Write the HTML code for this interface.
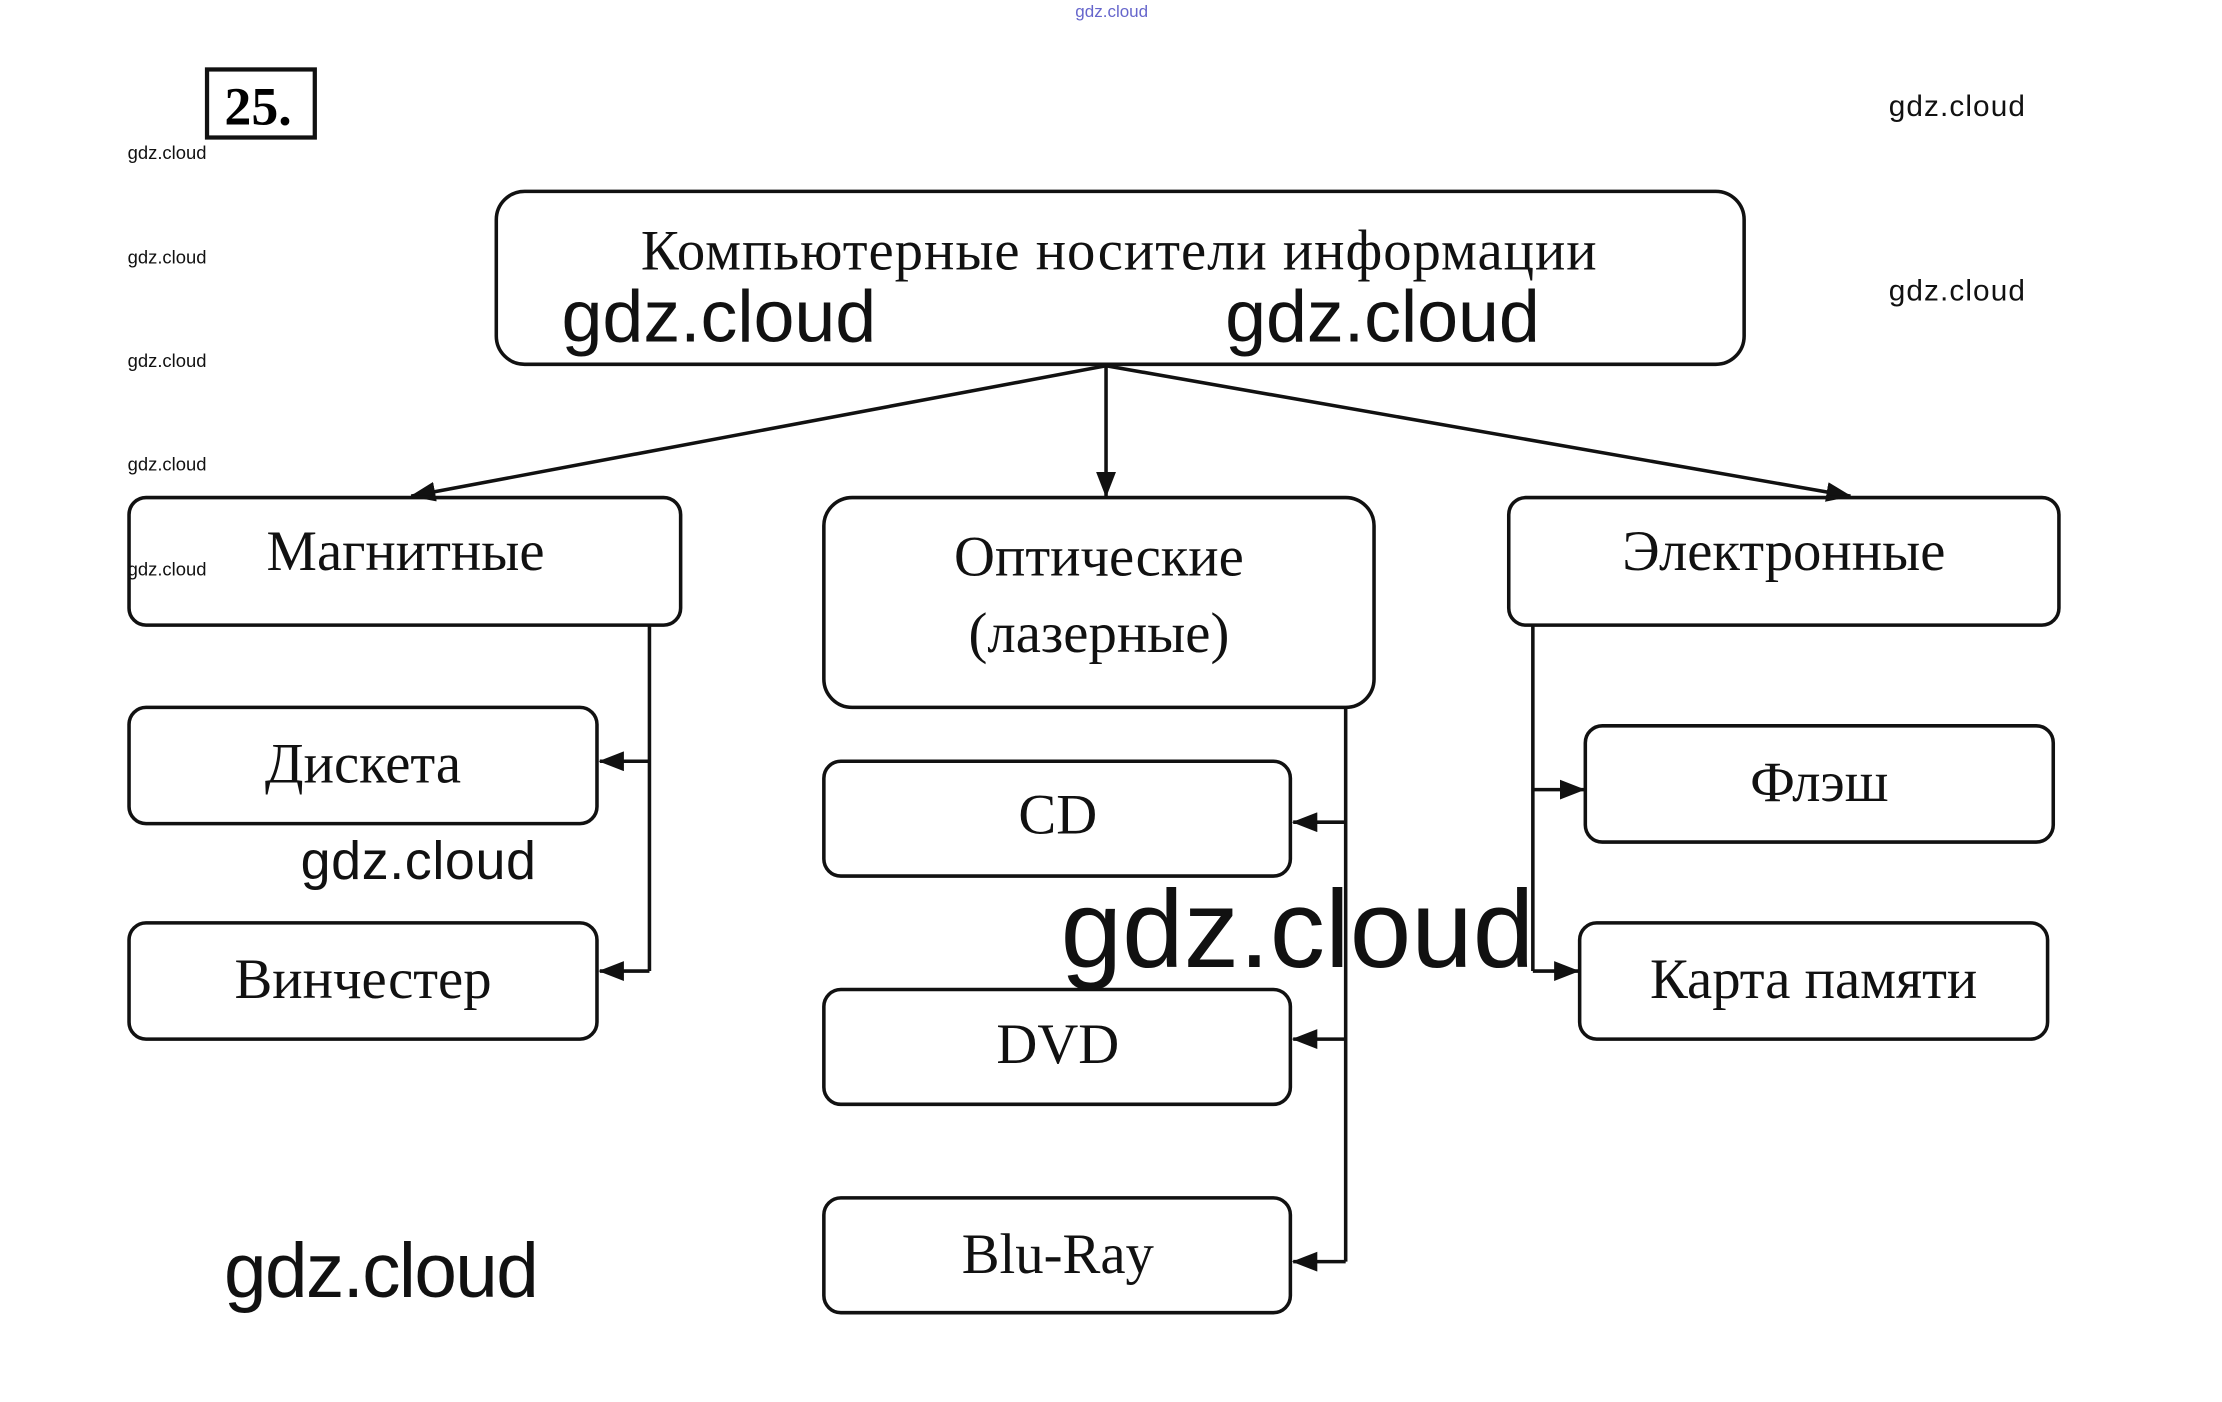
<!DOCTYPE html>
<html><head><meta charset="utf-8"><style>
html,body{margin:0;padding:0;background:#fff;}
svg{display:block;}
.s{font-family:"Liberation Serif",serif;font-size:40px;fill:#111;text-anchor:middle;}
.w{font-family:"Liberation Sans",sans-serif;fill:#111;}
rect.b{fill:none;stroke:#111;stroke-width:2.5;}
line,polyline{stroke:#111;stroke-width:2.5;fill:none;}
</style></head><body>
<svg width="2222" height="1402" viewBox="0 0 1567 989" preserveAspectRatio="none">
<defs><marker id="m" markerWidth="18" markerHeight="14" refX="17" refY="7" orient="auto" markerUnits="userSpaceOnUse"><path d="M0,0 L18,7 L0,14 z" fill="#111"/></marker></defs>
<text x="784" y="12" class="w" font-size="12" text-anchor="middle" style="fill:#66c">gdz.cloud</text>
<rect x="146" y="49" width="76" height="48" fill="none" stroke="#111" stroke-width="3"/>
<text x="182" y="88" font-family="Liberation Serif,serif" font-size="38" font-weight="bold" text-anchor="middle">25.</text>
<g class="w" font-size="13"><text x="90" y="112">gdz.cloud</text><text x="90" y="186">gdz.cloud</text><text x="90" y="259">gdz.cloud</text><text x="90" y="332">gdz.cloud</text><text x="90" y="406">gdz.cloud</text></g>
<g class="w" font-size="21"><text x="1332" y="82" textLength="96">gdz.cloud</text><text x="1332" y="212" textLength="96">gdz.cloud</text></g>
<rect class="b" x="350" y="135" width="880" height="122" rx="20"/>
<text class="s" x="789" y="190" textLength="674">Компьютерные носители информации</text>
<g class="w" font-size="52"><text x="396" y="241" textLength="222">gdz.cloud</text><text x="864" y="241" textLength="222">gdz.cloud</text></g>
<line x1="780" y1="258" x2="290" y2="350" marker-end="url(#m)"/>
<line x1="780" y1="258" x2="780" y2="350" marker-end="url(#m)"/>
<line x1="780" y1="258" x2="1305" y2="350" marker-end="url(#m)"/>
<rect class="b" x="91" y="351" width="389" height="90" rx="12"/>
<text class="s" x="286" y="402">Магнитные</text>
<rect class="b" x="581" y="351" width="388" height="148" rx="20"/>
<text class="s" x="775" y="406">Оптические</text><text class="s" x="775" y="460">(лазерные)</text>
<rect class="b" x="1064" y="351" width="388" height="90" rx="12"/>
<text class="s" x="1258" y="402">Электронные</text>
<rect class="b" x="91" y="499" width="330" height="82" rx="12"/><text class="s" x="256" y="552">Дискета</text>
<rect class="b" x="91" y="651" width="330" height="82" rx="12"/><text class="s" x="256" y="704">Винчестер</text>
<polyline points="458,441 458,685"/>
<line x1="458" y1="537" x2="423" y2="537" marker-end="url(#m)"/>
<line x1="458" y1="685" x2="423" y2="685" marker-end="url(#m)"/>
<rect class="b" x="581" y="537" width="329" height="81" rx="12"/><text class="s" x="746" y="588">CD</text>
<rect class="b" x="581" y="698" width="329" height="81" rx="12"/><text class="s" x="746" y="750">DVD</text>
<rect class="b" x="581" y="845" width="329" height="81" rx="12"/><text class="s" x="746" y="898">Blu-Ray</text>
<polyline points="949,499 949,890"/>
<line x1="949" y1="580" x2="912" y2="580" marker-end="url(#m)"/>
<line x1="949" y1="733" x2="912" y2="733" marker-end="url(#m)"/>
<line x1="949" y1="890" x2="912" y2="890" marker-end="url(#m)"/>
<rect class="b" x="1118" y="512" width="330" height="82" rx="12"/><text class="s" x="1283" y="565">Флэш</text>
<rect class="b" x="1114" y="651" width="330" height="82" rx="12"/><text class="s" x="1279" y="704">Карта памяти</text>
<polyline points="1081,441 1081,685"/>
<line x1="1081" y1="557" x2="1117" y2="557" marker-end="url(#m)"/>
<line x1="1081" y1="685" x2="1113" y2="685" marker-end="url(#m)"/>
<g class="w"><text x="212" y="620" font-size="38" textLength="166">gdz.cloud</text><text x="748" y="682" font-size="78" textLength="334">gdz.cloud</text><text x="158" y="915" font-size="54" textLength="222">gdz.cloud</text></g>
</svg>
</body></html>
